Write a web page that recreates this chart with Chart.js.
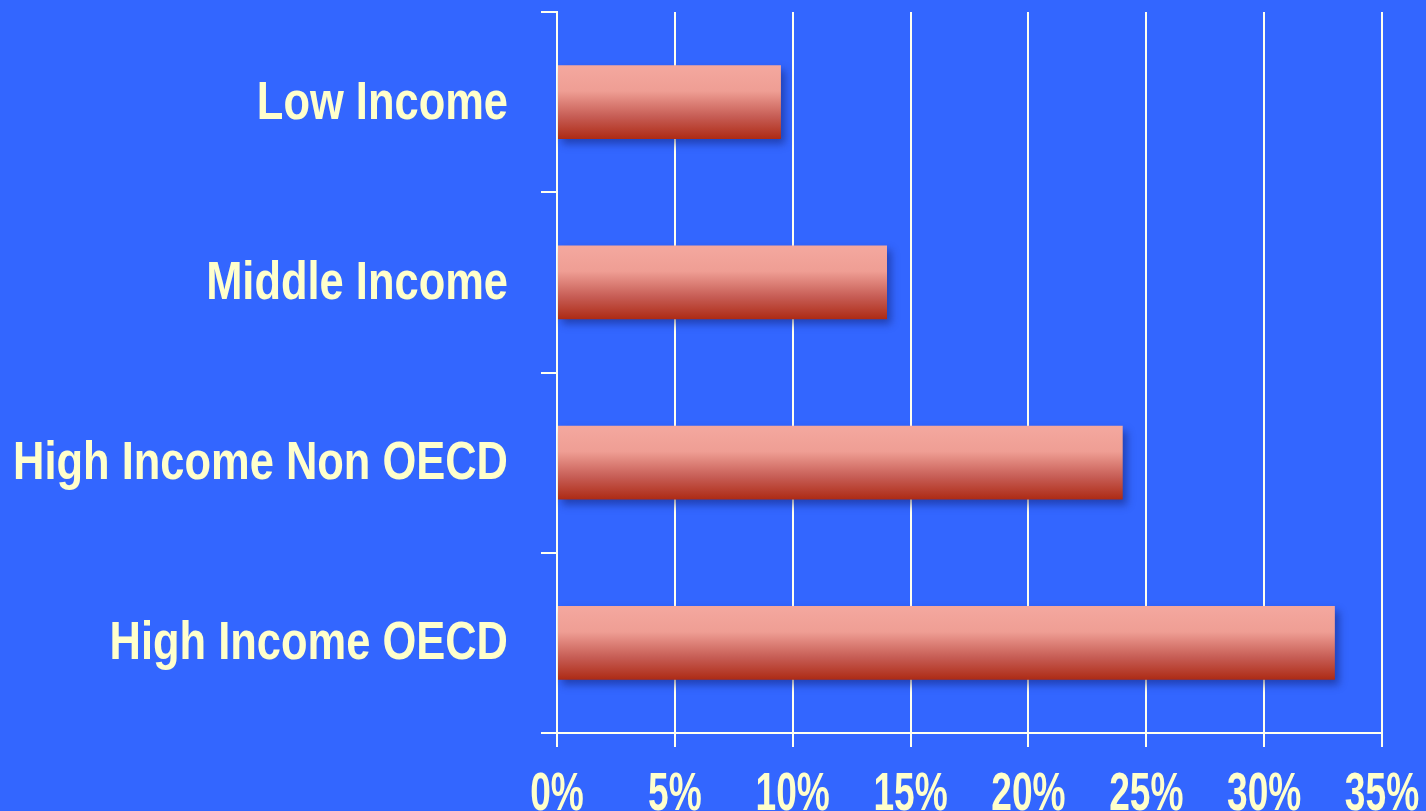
<!DOCTYPE html>
<html>
<head>
<meta charset="utf-8">
<script src="https://cdn.jsdelivr.net/npm/chart.js@4/dist/chart.umd.min.js"></script>
<style>
  html, body { margin: 0; padding: 0; background: #3366ff; }
  #wrap { width: 1426px; height: 811px; }
</style>
</head>
<body>
<div id="wrap"><canvas id="grafico"></canvas></div>
<script>
// dados do gráfico
const categorias = ['Low Income', 'Middle Income', 'High Income Non OECD', 'High Income OECD'];
const valores = [9.5, 14, 24, 33];
const ticksX = [0, 5, 10, 15, 20, 25, 30, 35];

const fonte = "'Liberation Sans', Arial, sans-serif";
const corTexto = '#ffffcc';
const corGrade = '#fffff0';

// gradiente vertical de cada barra (rosa em cima, vermelho escuro embaixo)
function corBarra(context) {
  const chart = context.chart;
  const yScale = chart.scales.y;
  if (!chart.chartArea || !yScale || context.dataIndex === undefined) return '#d86a5c';
  const centro = yScale.getPixelForValue(context.dataIndex);
  const banda = yScale.height / categorias.length;
  if (!isFinite(centro) || !isFinite(banda) || banda <= 0) return '#d86a5c';
  const meia = banda * 0.41 / 2;
  const g = chart.ctx.createLinearGradient(0, centro - meia, 0, centro + meia);
  g.addColorStop(0, '#f4a89f');
  g.addColorStop(0.35, '#ef9e94');
  g.addColorStop(0.7, '#c65c54');
  g.addColorStop(1, '#ad2a14');
  return g;
}

// sombra leve nas barras
const sombra = {
  id: 'sombra',
  beforeDatasetDraw(chart) {
    const ctx = chart.ctx;
    ctx.save();
    ctx.shadowColor = 'rgba(10, 20, 90, 0.45)';
    ctx.shadowBlur = 8;
    ctx.shadowOffsetX = 4;
    ctx.shadowOffsetY = 5;
  },
  afterDatasetDraw(chart) {
    chart.ctx.restore();
  }
};

// rótulos em fonte estreita (Arial comprimida na horizontal)
function rotulosEstreitos(escala, fator, deslocY) {
  escala.drawLabels = function (area) {
    const ctx = this.ctx;
    for (const item of this.getLabelItems(area)) {
      const o = item.options;
      ctx.save();
      ctx.translate(o.translation[0], o.translation[1] + deslocY);
      ctx.scale(fator, 1);
      ctx.font = item.font.string;
      ctx.fillStyle = o.color;
      ctx.textAlign = o.textAlign;
      ctx.textBaseline = o.textBaseline;
      ctx.fillText(item.label, 0, item.textOffset);
      ctx.restore();
    }
  };
}

const estreito = {
  id: 'estreito',
  beforeDraw(chart) {
    rotulosEstreitos(chart.scales.x, 0.70, 3);
    rotulosEstreitos(chart.scales.y, 0.82, 2);
  }
};

const grafico = new Chart(document.getElementById('grafico'), {
  type: 'bar',
  data: {
    labels: categorias,
    datasets: [{
      data: valores,
      backgroundColor: corBarra,
      borderWidth: 0,
      categoryPercentage: 0.41,
      barPercentage: 1
    }]
  },
  plugins: [sombra, estreito],
  options: {
    indexAxis: 'y',
    responsive: true,
    maintainAspectRatio: false,
    animation: false,
    layout: { padding: { top: 12, right: 44, left: 0, bottom: 0 } },
    plugins: {
      legend: { display: false },
      tooltip: { enabled: false }
    },
    scales: {
      x: {
        min: 0,
        max: 35,
        afterBuildTicks: axis => { axis.ticks = ticksX.map(v => ({ value: v })); },
        afterFit: s => { s.height = 78; s.paddingRight = 44; },
        grid: { color: corGrade, lineWidth: 2, tickLength: 14 },
        border: { color: corGrade, width: 2 },
        ticks: {
          color: corTexto,
          padding: 14,
          autoSkip: false,
          maxRotation: 0,
          font: { family: fonte, size: 53, weight: 'bold' },
          callback: v => v + '%'
        }
      },
      y: {
        afterFit: s => { s.width = 557; s.paddingTop = 0; s.paddingBottom = 0; },
        grid: { drawOnChartArea: false, color: corGrade, lineWidth: 2, tickLength: 16 },
        border: { color: corGrade, width: 2 },
        ticks: {
          color: corTexto,
          padding: 33,
          autoSkip: false,
          font: { family: fonte, size: 53, weight: 'bold' }
        }
      }
    }
  }
});
grafico.update();
</script>
</body>
</html>
